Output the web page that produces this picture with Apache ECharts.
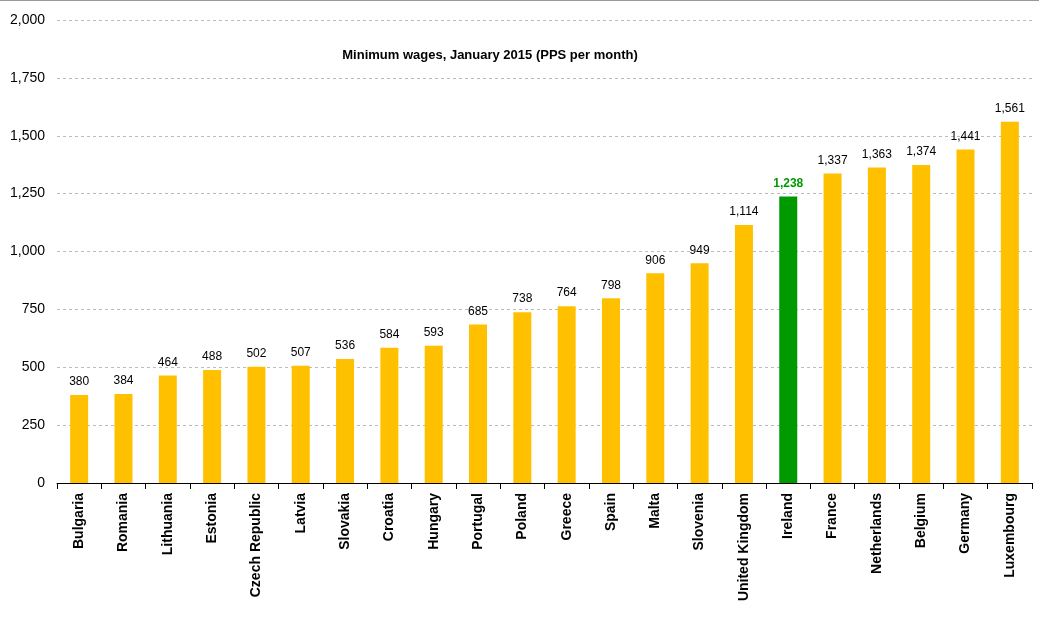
<!DOCTYPE html>
<html>
<head>
<meta charset="utf-8">
<script src="https://cdn.jsdelivr.net/npm/echarts@6/dist/echarts.min.js"></script>
<style>html,body{margin:0;padding:0;background:#fff}#chart{width:1039px;height:638px;border-top:1px solid #999;box-sizing:border-box}</style>
</head>
<body>
<div id="chart"></div>
<script>
var countries = ['Bulgaria','Romania','Lithuania','Estonia','Czech Republic','Latvia','Slovakia','Croatia','Hungary','Portugal','Poland','Greece','Spain','Malta','Slovenia','United Kingdom','Ireland','France','Netherlands','Belgium','Germany','Luxembourg'];
var wages = [380,384,464,488,502,507,536,584,593,685,738,764,798,906,949,1114,1238,1337,1363,1374,1441,1561];
var highlight = 'Ireland';

var chart = echarts.init(document.getElementById('chart'));
chart.setOption({
  animation: false,
  title: {
    text: 'Minimum wages, January 2015 (PPS per month)',
    left: 485, top: 43, textAlign: 'center',
    textStyle: {fontFamily: 'Liberation Sans, Arial', fontSize: 13, fontWeight: 'bold', color: '#000'}
  },
  grid: {left: 57, right: 7, top: 19, bottom: 155},
  xAxis: {
    type: 'category',
    data: countries,
    axisLine: {lineStyle: {color: '#000'}},
    axisTick: {show: true, length: 6, lineStyle: {color: '#000'}},
    axisLabel: {rotate: 90, interval: 0, fontFamily: 'Liberation Sans, Arial', fontSize: 14, fontWeight: 'bold', color: '#000', margin: 10}
  },
  yAxis: {
    type: 'value', min: 0, max: 2000, interval: 250,
    axisLine: {show: false},
    axisTick: {show: false},
    splitLine: {lineStyle: {color: '#bbb', type: [3, 3]}},
    axisLabel: {
      fontFamily: 'Liberation Sans, Arial', fontSize: 14, color: '#000', margin: 12,
      formatter: function (v) { return v.toLocaleString('en-US'); }
    }
  },
  series: [{
    type: 'bar',
    barWidth: 18,
    data: wages.map(function (v, i) {
      var hi = countries[i] === highlight;
      return {
        value: v,
        itemStyle: {color: hi ? '#009900' : '#FFC000'},
        label: hi ? {color: '#009900', fontWeight: 'bold'} : {}
      };
    }),
    label: {
      show: true, position: 'top', distance: 7,
      fontFamily: 'Liberation Sans, Arial', fontSize: 12, color: '#000',
      formatter: function (p) { return p.value.toLocaleString('en-US'); }
    }
  }]
});
</script>
</body>
</html>
